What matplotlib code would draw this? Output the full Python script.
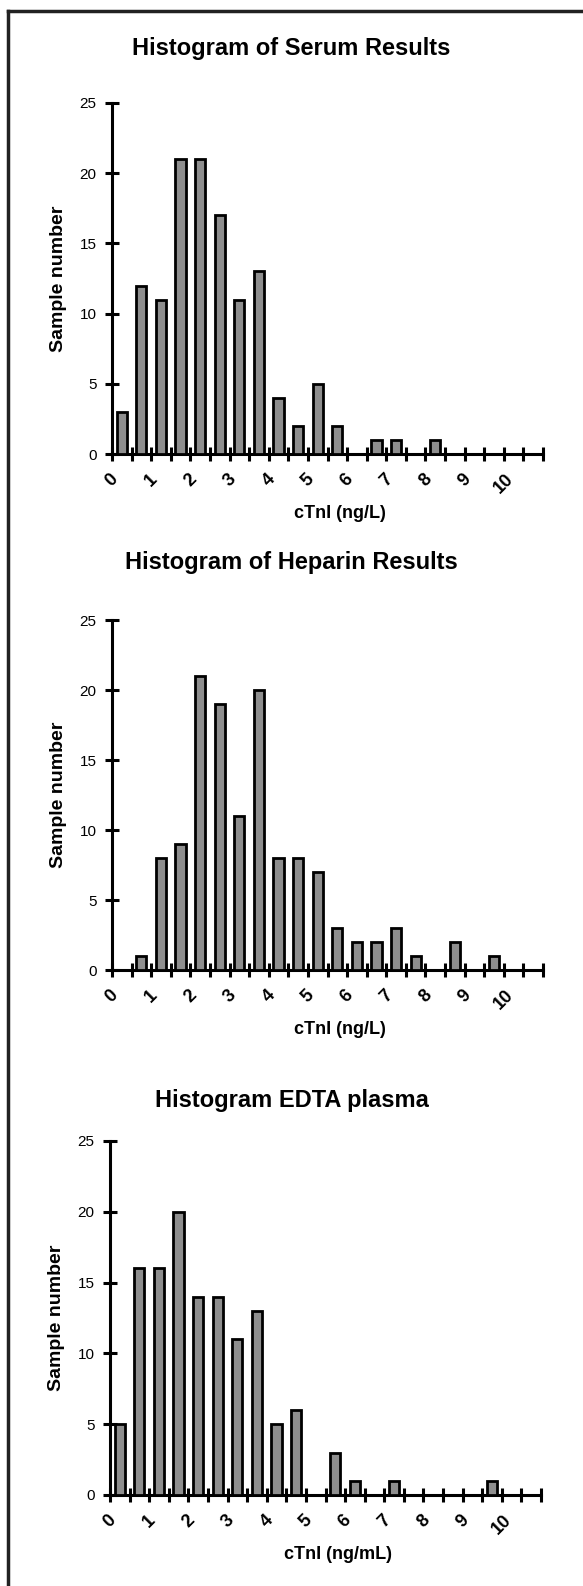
import numpy as np
import matplotlib
matplotlib.use("Agg")
import matplotlib.pyplot as plt
from matplotlib.lines import Line2D

plt.rcParams['font.family'] = ['Liberation Sans', 'DejaVu Sans']

# bins of 0.5 ng from 0 to 11
bin_edges = np.arange(0, 11.01, 0.5)
bin_centers = bin_edges[:-1] + 0.25

serum = [3, 12, 11, 21, 21, 17, 11, 13, 4, 2, 5, 2, 0, 1, 1, 0, 1, 0, 0, 0, 0, 0]
heparin = [0, 1, 8, 9, 21, 19, 11, 20, 8, 8, 7, 3, 2, 2, 3, 1, 0, 2, 0, 1, 0, 0]
edta = [5, 16, 16, 20, 14, 14, 11, 13, 5, 6, 0, 3, 1, 0, 1, 0, 0, 0, 0, 1, 0, 0]

titles = ["Histogram of Serum Results", "Histogram of Heparin Results",
          "Histogram EDTA plasma"]
xlabels = ["cTnI (ng/L)", "cTnI (ng/L)", "cTnI (ng/mL)"]
ylabel = "Sample number"
xtick_labels = [str(i) for i in range(11)]

W, H = 583, 1586
fig = plt.figure(figsize=(W / 100, H / 100), dpi=100)

# axes boxes in pixels: (left, top, right, bottom)
boxes = [(112, 103, 543, 454), (112, 620, 543, 970), (110, 1141, 541, 1495)]
title_y = [48, 562, 1101]

for data, box, ty, title, xl in zip([serum, heparin, edta], boxes, title_y, titles, xlabels):
    l, t, r, b = box
    ax = fig.add_axes([l / W, 1 - b / H, (r - l) / W, (b - t) / H])
    ax.bar(bin_centers, data, width=0.26, color='#8e8e8e', edgecolor='black',
           linewidth=2, zorder=3)
    ax.set_xlim(0, 11)
    ax.set_ylim(0, 25)
    for s in ['top', 'right']:
        ax.spines[s].set_visible(False)
    for s in ['left', 'bottom']:
        ax.spines[s].set_linewidth(2.2)
    ax.set_yticks(np.arange(0, 26, 5))
    ax.set_xticks(bin_edges)
    labels = [xtick_labels[i // 2] if i % 2 == 0 and i // 2 < len(xtick_labels) else ''
              for i in range(len(bin_edges))]
    ax.set_xticklabels(labels, rotation=45, ha='center', va='top',
                       fontsize=13, fontweight='bold')
    ax.tick_params(axis='both', direction='inout', length=10, width=2.2)
    ax.tick_params(axis='y', labelsize=11, pad=6)
    ax.tick_params(axis='x', pad=7)
    ax.set_xlabel(xl, fontsize=13, fontweight='bold')
    ax.xaxis.set_label_coords(0.53, -0.145)
    ax.set_ylabel(ylabel, fontsize=14, fontweight='bold')
    ax.yaxis.set_label_coords(-0.105, 0.5)
    fig.text(0.5, 1 - ty / H, title, ha='center', va='center',
             fontsize=17, fontweight='bold')

# frame around the figure (left and top edges visible)
fig.add_artist(Line2D([8 / W, 8 / W], [0, 1 - 11 / H], color='#222222', linewidth=2.5))
fig.add_artist(Line2D([8 / W, 1], [1 - 11 / H, 1 - 11 / H], color='#222222', linewidth=2.5))

fig.savefig("out.png", dpi=100)
